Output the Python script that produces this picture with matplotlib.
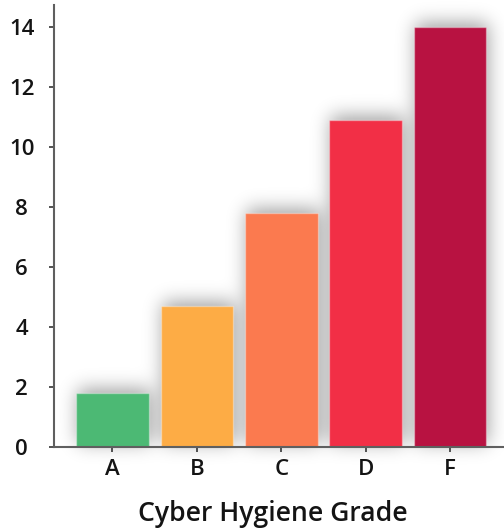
import numpy as np
import matplotlib
matplotlib.use("Agg")
import matplotlib.pyplot as plt

# Data
grades = ["A", "B", "C", "D", "F"]
counts = [1.8, 4.7, 7.8, 10.9, 14.0]
bar_colors = ["#4cb974", "#fdac45", "#fb7a4f", "#f22f46", "#b81241"]
yticks = [0, 2, 4, 6, 8, 10, 12, 14]

plt.rcParams["font.family"] = ["Open Sans", "DejaVu Sans"]
plt.rcParams["font.weight"] = 600


def gaussian_blur(a, sigma):
    r = int(3 * sigma)
    t = np.arange(-r, r + 1)
    k = np.exp(-0.5 * (t / sigma) ** 2)
    k /= k.sum()
    a = np.apply_along_axis(lambda m: np.convolve(m, k, mode="same"), 0, a)
    a = np.apply_along_axis(lambda m: np.convolve(m, k, mode="same"), 1, a)
    return a


W, H = 504, 531
fig = plt.figure(figsize=(W / 100, H / 100), dpi=100)
fig.patch.set_facecolor("white")

left_px, right_px, top_px, bottom_px = 54, 508.5, 5.3, 446.7
ax = fig.add_axes([left_px / W, (H - bottom_px) / H,
                   (right_px - left_px) / W, (bottom_px - top_px) / H])
ax.patch.set_visible(False)

x = np.arange(len(grades))
bars = ax.bar(x, counts, width=0.86, color=bar_colors,
              edgecolor=(1, 1, 1, 0.35), linewidth=1.0, zorder=2)

ax.set_xlim(-0.6925, 4.6925)
ax.set_ylim(0, 14.71)
ax.set_xticks(x)
ax.set_xticklabels(grades)
ax.set_yticks(yticks)
ax.set_yticklabels([str(v) for v in yticks])

# soft drop shadow behind the bars, built from the bars' own extents
sigma, dx, dy, strength = 9.5, 2, 4, 0.38
pad = int(4 * sigma)
mask = np.zeros((H + 2 * pad, W + 2 * pad))
for p in bars.patches:
    (x0, y0), (x1, y1) = ax.transData.transform(p.get_bbox().get_points())
    c0, c1 = int(round(x0)) + dx + pad, int(round(x1)) + dx + pad
    r0, r1 = int(round(H - y1)) - dy + pad, int(round(H - y0)) - dy + pad
    mask[r0:r1, c0:c1] = 1.0
mask = gaussian_blur(mask, sigma)[pad:pad + H, pad:pad + W]
shadow = np.zeros((H, W, 4))
shadow[..., 3] = np.clip(mask * strength, 0, 1)
fig.figimage(shadow, xo=0, yo=0, origin="upper", zorder=-1)

for s in ("top", "right"):
    ax.spines[s].set_visible(False)
for s in ("left", "bottom"):
    ax.spines[s].set_color("#5f5f5f")
    ax.spines[s].set_linewidth(1.5)
    ax.spines[s].set_zorder(3)

ax.tick_params(axis="both", direction="out", length=3.8, width=1.3,
               color="#444444", labelsize=16, labelcolor="#141414")
ax.tick_params(axis="x", pad=5.0)
ax.tick_params(axis="y", pad=19.5)
for lab in ax.get_yticklabels():
    lab.set_horizontalalignment("center")

ax.set_xlabel("Cyber Hygiene Grade", fontsize=19.2, fontweight=600,
              color="#141414")
ax.xaxis.label.set_verticalalignment("baseline")
ax.xaxis.set_label_coords((273 - left_px) / (right_px - left_px),
                          (bottom_px - 520.7) / (bottom_px - top_px))

fig.savefig("out.png", dpi=100, facecolor="white")
